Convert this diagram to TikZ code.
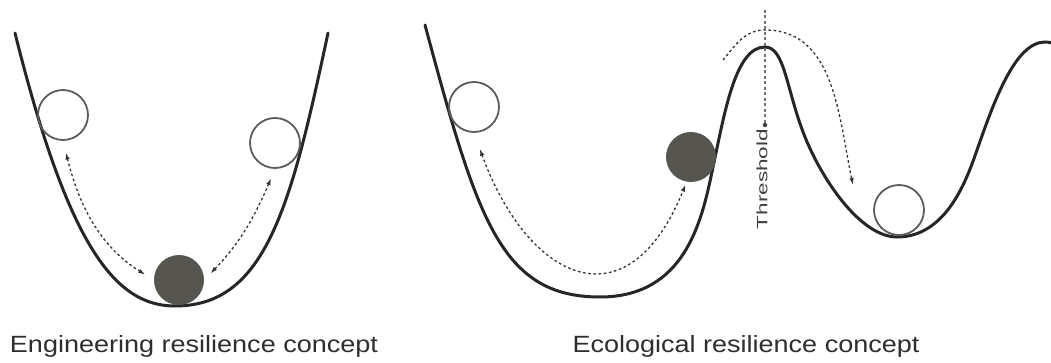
\documentclass[tikz,border=0pt]{standalone}
\usepackage{fontspec}
\setmainfont{Liberation Sans}
\usetikzlibrary{arrows.meta}
\definecolor{landgray}{HTML}{262626}
\definecolor{ballgray}{HTML}{57554F}
\definecolor{ringgray}{HTML}{5C5C5C}
\tikzset{
  land/.style={draw=landgray,line width=3pt,line cap=round},
  ball-open/.style={draw=ringgray,circle,minimum size=50pt,inner sep=0pt,line width=1.8pt},
  ball-full/.style={fill=ballgray,circle,minimum size=50pt,inner sep=0pt},
  flow/.style={{Latex[length=7pt,width=4.5pt]}-{Latex[length=7pt,width=4.5pt]},line width=1.3pt,dash pattern=on 2.6pt off 2.6pt,black!80},
  flow-one/.style={-{Latex[length=7pt,width=4.5pt]},line width=1.3pt,dash pattern=on 2.6pt off 2.6pt,black!80},
  thresh/.style={draw=black!55,line width=1.4pt,dash pattern=on 3pt off 2.5pt},
  thdot/.style={fill=black!75,circle,inner sep=0pt,minimum size=4.5pt},
  caption/.style={font=\fontsize{23.5}{28}\selectfont,text=black!82,anchor=base},
}

\begin{document}
\begin{tikzpicture}[x=1pt,y=1pt]
  \useasboundingbox (0,0) rectangle (1051,362);

  % LEFT: engineering resilience
  \draw[land] (15,329) .. controls (68.2,115.6) and (115,56) .. (175,56)
                       .. controls (265,56) and (290.6,153) .. (328,329);

  \node[ball-open] (eng1) at (63,247)  {};
  \node[ball-open] (eng2) at (275,219) {};
  \node[ball-full] (engf) at (179,82)  {};

  \draw[flow,shorten <=12pt,shorten >=10pt] (eng1.south) to[out=-76,in=148] (engf.west);
  \draw[flow,shorten <=9pt,shorten >=10pt]  (engf.east) to[out=46,in=-113] (eng2.south);

  \node[caption] (engcap) at (194,10) {\scalebox{1.15}[1]{Engineering resilience concept}};

  % RIGHT: ecological resilience
  \draw[land] (425,337) .. controls (477,144) and (500,65) .. (600,65)
              .. controls (685,65) and (701.6,141.1) .. (712,190)
              .. controls (724.5,248.7) and (735,315) .. (765,315)
              .. controls (785,315) and (786.3,271.4) .. (805,225)
              .. controls (823.75,178.7) and (862,125) .. (897,125)
              .. controls (947,125) and (967.1,183.7) .. (977,212)
              .. controls (993.5,259.2) and (1015,320) .. (1045,320)
              .. controls (1049,320) and (1052,319) .. (1055,318);

  \node[ball-open] (eco1) at (474,255) {};
  \node[ball-full] (ecof) at (691,205) {};
  \node[ball-open] (ecov) at (899,152) {};

  \draw[flow,shorten <=17pt,shorten >=3pt] (eco1.south) to[out=-70,in=-112,looseness=1.85] (ecof.-100);

  % threshold
  \coordinate (thtop) at (765,352);
  \node[thdot] (thd) at (765,237) {};
  \draw[thresh] (thtop) -- (thd);
  \node[rotate=90,font=\fontsize{15}{18}\selectfont,text=black!75] (thlabel) at (762,183) {\scalebox{1.5}[1]{Threshold}};

  \coordinate (tipfrom) at (723,302);
  \coordinate (crest)   at (765,332);
  \coordinate (tipto)   at (853,177);
  \draw[flow-one] (tipfrom) to[out=50,in=180] (crest) to[out=0,in=102] (tipto);

  \node[caption] (ecocap) at (746,10) {\scalebox{1.15}[1]{Ecological resilience concept}};

\end{tikzpicture}
\end{document}
